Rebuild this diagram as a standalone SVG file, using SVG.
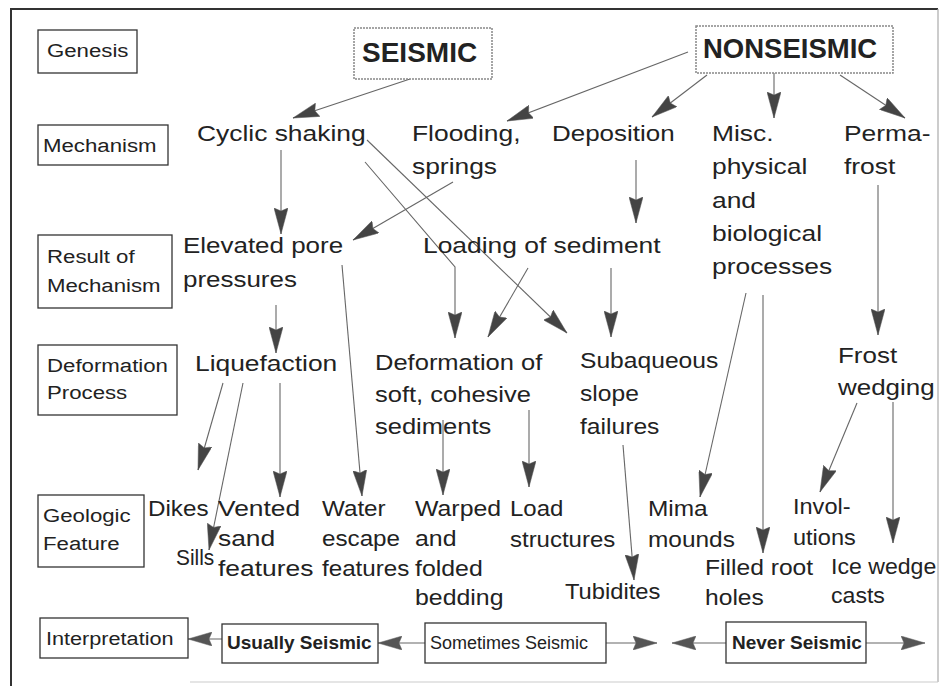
<svg xmlns="http://www.w3.org/2000/svg" width="941" height="686" viewBox="0 0 941 686">
<style>
.t{font-family:"Liberation Sans",Arial,sans-serif;font-size:22px;fill:#222}
.l{font-family:"Liberation Sans",Arial,sans-serif;font-size:19px;fill:#222}
.b{font-family:"Liberation Sans",Arial,sans-serif;font-size:19px;font-weight:bold;fill:#222}
.s{font-family:"Liberation Sans",Arial,sans-serif;font-size:18px;fill:#222}
.g{font-family:"Liberation Sans",Arial,sans-serif;font-weight:bold;fill:#222}
.box{fill:#fff;stroke:#333;stroke-width:1.3}
.dbox{fill:#fff;stroke:#888;stroke-width:1.5;stroke-dasharray:2 1}
.c{fill:none;stroke:#666;stroke-width:1.1}
</style>
<defs>
<marker id="ah" markerUnits="userSpaceOnUse" markerWidth="26" markerHeight="14" viewBox="0 0 26 14" refX="26" refY="7" orient="auto">
<path d="M0,0 L26,7 L0,14 L3,7 Z" fill="#444" stroke="#555" stroke-width="0.5"/>
</marker>
<marker id="ah2" markerUnits="userSpaceOnUse" markerWidth="24" markerHeight="14" viewBox="0 0 24 14" refX="24" refY="7" orient="auto">
<path d="M0,0 L24,7 L0,14 L3,7 Z" fill="#555" stroke="#666" stroke-width="0.5"/>
</marker>
</defs>
<rect width="941" height="686" fill="#fff"/>
<g id="frame">
<path d="M11,686 L11,9 L938,9" fill="none" stroke="#333" stroke-width="2"/>
<path d="M938,9 L938,682" fill="none" stroke="#aaa" stroke-width="1.2"/>
<path d="M190,682 L938,682" fill="none" stroke="#ccc" stroke-width="1.2"/>
</g>

<g id="connectors">
<line class="c" x1="410" y1="79" x2="293" y2="118" marker-end="url(#ah)"/>
<line class="c" x1="688" y1="52" x2="507" y2="121" marker-end="url(#ah)"/>
<line class="c" x1="707" y1="75" x2="652" y2="117" marker-end="url(#ah)"/>
<line class="c" x1="774" y1="73" x2="774" y2="118" marker-end="url(#ah)"/>
<line class="c" x1="840" y1="75" x2="905" y2="118" marker-end="url(#ah)"/>
<line class="c" x1="281" y1="150" x2="281" y2="234" marker-end="url(#ah)"/>
<line class="c" x1="367" y1="140" x2="567" y2="333" marker-end="url(#ah)"/>
<polyline class="c" points="365,162 455,267 455,338" marker-end="url(#ah)"/>
<line class="c" x1="453" y1="182" x2="353" y2="240" marker-end="url(#ah)"/>
<line class="c" x1="636" y1="160" x2="636" y2="223" marker-end="url(#ah)"/>
<line class="c" x1="276" y1="305" x2="276" y2="353" marker-end="url(#ah)"/>
<line class="c" x1="342" y1="265" x2="362" y2="496" marker-end="url(#ah)"/>
<line class="c" x1="528" y1="268" x2="488" y2="337" marker-end="url(#ah)"/>
<line class="c" x1="611" y1="268" x2="611" y2="337" marker-end="url(#ah)"/>
<line class="c" x1="746" y1="293" x2="700" y2="497" marker-end="url(#ah)"/>
<line class="c" x1="763" y1="295" x2="763" y2="553" marker-end="url(#ah)"/>
<line class="c" x1="878" y1="185" x2="878" y2="335" marker-end="url(#ah)"/>
<line class="c" x1="857" y1="403" x2="820" y2="492" marker-end="url(#ah)"/>
<line class="c" x1="893" y1="402" x2="893" y2="543" marker-end="url(#ah)"/>
<line class="c" x1="223" y1="383" x2="198" y2="470" marker-end="url(#ah)"/>
<line class="c" x1="243" y1="383" x2="209" y2="550" marker-end="url(#ah)"/>
<line class="c" x1="280" y1="383" x2="280" y2="497" marker-end="url(#ah)"/>
<line class="c" x1="443" y1="420" x2="443" y2="495" marker-end="url(#ah)"/>
<line class="c" x1="529" y1="410" x2="529" y2="487" marker-end="url(#ah)"/>
<line class="c" x1="623" y1="445" x2="634" y2="580" marker-end="url(#ah)"/>
<line class="c" x1="222" y1="639" x2="188" y2="639" marker-end="url(#ah2)"/>
<line class="c" x1="425" y1="643" x2="378" y2="643" marker-end="url(#ah2)"/>
<line class="c" x1="606" y1="643" x2="657" y2="643" marker-end="url(#ah2)"/>
<line class="c" x1="726" y1="643" x2="672" y2="643" marker-end="url(#ah2)"/>
<line class="c" x1="866" y1="643" x2="925" y2="643" marker-end="url(#ah2)"/>
</g>

<g id="lbl-genesis"><rect class="box" x="38" y="30" width="99" height="43"/><text class="l" transform="translate(47,57) scale(1.17,1)">Genesis</text></g>
<g id="lbl-mechanism"><rect class="box" x="38" y="125" width="130" height="40"/><text class="l" transform="translate(43,152) scale(1.17,1)">Mechanism</text></g>
<g id="lbl-result"><rect class="box" x="38" y="235" width="134" height="73"/><text class="l" transform="translate(47,263) scale(1.17,1)"><tspan x="0">Result of</tspan><tspan x="0" dy="29">Mechanism</tspan></text></g>
<g id="lbl-deformation"><rect class="box" x="38" y="345" width="139" height="70"/><text class="l" transform="translate(47,372) scale(1.17,1)"><tspan x="0">Deformation</tspan><tspan x="0" dy="27">Process</tspan></text></g>
<g id="lbl-geologic"><rect class="box" x="38" y="495" width="106" height="72"/><text class="l" transform="translate(43,522) scale(1.17,1)"><tspan x="0">Geologic</tspan><tspan x="0" dy="28">Feature</tspan></text></g>
<g id="lbl-interpretation"><rect class="box" x="40" y="618" width="148" height="40"/><text class="l" transform="translate(46,645) scale(1.14,1)">Interpretation</text></g>

<g id="seismic"><rect class="dbox" x="354" y="28" width="138" height="51"/><text class="g" x="362" y="62" font-size="28">SEISMIC</text></g>
<g id="nonseismic"><rect class="dbox" x="696" y="26" width="197" height="47"/><text class="g" x="703" y="58" font-size="27.5">NONSEISMIC</text></g>

<g id="cyclic"><text class="t" transform="translate(197,141) scale(1.2,1)">Cyclic shaking</text></g>
<g id="flooding"><text class="t" transform="translate(412,141) scale(1.2,1)"><tspan x="0">Flooding,</tspan><tspan x="0" dy="33">springs</tspan></text></g>
<g id="deposition"><text class="t" transform="translate(552,141) scale(1.18,1)">Deposition</text></g>
<g id="misc"><text class="t" transform="translate(712,141) scale(1.2,1)"><tspan x="0">Misc.</tspan><tspan x="0" dy="33.3">physical</tspan><tspan x="0" dy="33.3">and</tspan><tspan x="0" dy="33.3">biological</tspan><tspan x="0" dy="33.3">processes</tspan></text></g>
<g id="permafrost"><text class="t" transform="translate(844,141) scale(1.2,1)"><tspan x="0">Perma-</tspan><tspan x="0" dy="33">frost</tspan></text></g>

<g id="elevated"><text class="t" transform="translate(183,253) scale(1.18,1)"><tspan x="0">Elevated pore</tspan><tspan x="0" dy="34">pressures</tspan></text></g>
<g id="loading"><text class="t" transform="translate(423,253) scale(1.2,1)">Loading of sediment</text></g>

<g id="liquefaction"><text class="t" transform="translate(195,371) scale(1.2,1)">Liquefaction</text></g>
<g id="deformsoft"><text class="t" transform="translate(375,370) scale(1.16,1)"><tspan x="0">Deformation of</tspan><tspan x="0" dy="32">soft, cohesive</tspan><tspan x="0" dy="32">sediments</tspan></text></g>
<g id="subaqueous"><text class="t" transform="translate(580,368) scale(1.12,1)"><tspan x="0">Subaqueous</tspan><tspan x="0" dy="33">slope</tspan><tspan x="0" dy="33">failures</tspan></text></g>
<g id="frost"><text class="t" transform="translate(838,363) scale(1.18,1)"><tspan x="0">Frost</tspan><tspan x="0" dy="32">wedging</tspan></text></g>

<g id="dikes"><text class="t" transform="translate(148,516) scale(1.1,1)">Dikes</text></g>
<g id="sills"><text class="t" transform="translate(176,565) scale(0.95,1)">Sills</text></g>
<g id="vented"><text class="t" transform="translate(218,516) scale(1.2,1)"><tspan x="0">Vented</tspan><tspan x="0" dy="30">sand</tspan><tspan x="0" dy="30">features</tspan></text></g>
<g id="water"><text class="t" transform="translate(322,516) scale(1.1,1)"><tspan x="0">Water</tspan><tspan x="0" dy="30">escape</tspan><tspan x="0" dy="30">features</tspan></text></g>
<g id="warped"><text class="t" transform="translate(415,516) scale(1.13,1)"><tspan x="0">Warped</tspan><tspan x="0" dy="30">and</tspan><tspan x="0" dy="30">folded</tspan><tspan x="0" dy="29">bedding</tspan></text></g>
<g id="load"><text class="t" transform="translate(510,516) scale(1.09,1)"><tspan x="0">Load</tspan><tspan x="0" dy="31">structures</tspan></text></g>
<g id="tubidites"><text class="t" transform="translate(565,599) scale(1.08,1)">Tubidites</text></g>
<g id="mima"><text class="t" transform="translate(648,516) scale(1.11,1)"><tspan x="0">Mima</tspan><tspan x="0" dy="31">mounds</tspan></text></g>
<g id="filledroot"><text class="t" transform="translate(705,575) scale(1.12,1)"><tspan x="0">Filled root</tspan><tspan x="0" dy="30">holes</tspan></text></g>
<g id="involutions"><text class="t" transform="translate(793,514) scale(1.07,1)"><tspan x="0">Invol-</tspan><tspan x="0" dy="31">utions</tspan></text></g>
<g id="icewedge"><text class="t" transform="translate(831,574) scale(1.05,1)"><tspan x="0">Ice wedge</tspan><tspan x="0" dy="29">casts</tspan></text></g>

<g id="usually"><rect class="box" x="222" y="624" width="156" height="39"/><text class="b" x="227" y="649">Usually Seismic</text></g>
<g id="sometimes"><rect class="box" x="425" y="623" width="181" height="40"/><text class="s" x="430" y="649">Sometimes Seismic</text></g>
<g id="never"><rect class="box" x="726" y="622" width="140" height="41"/><text class="b" x="732" y="649" font-size="18.5">Never Seismic</text></g>
</svg>
